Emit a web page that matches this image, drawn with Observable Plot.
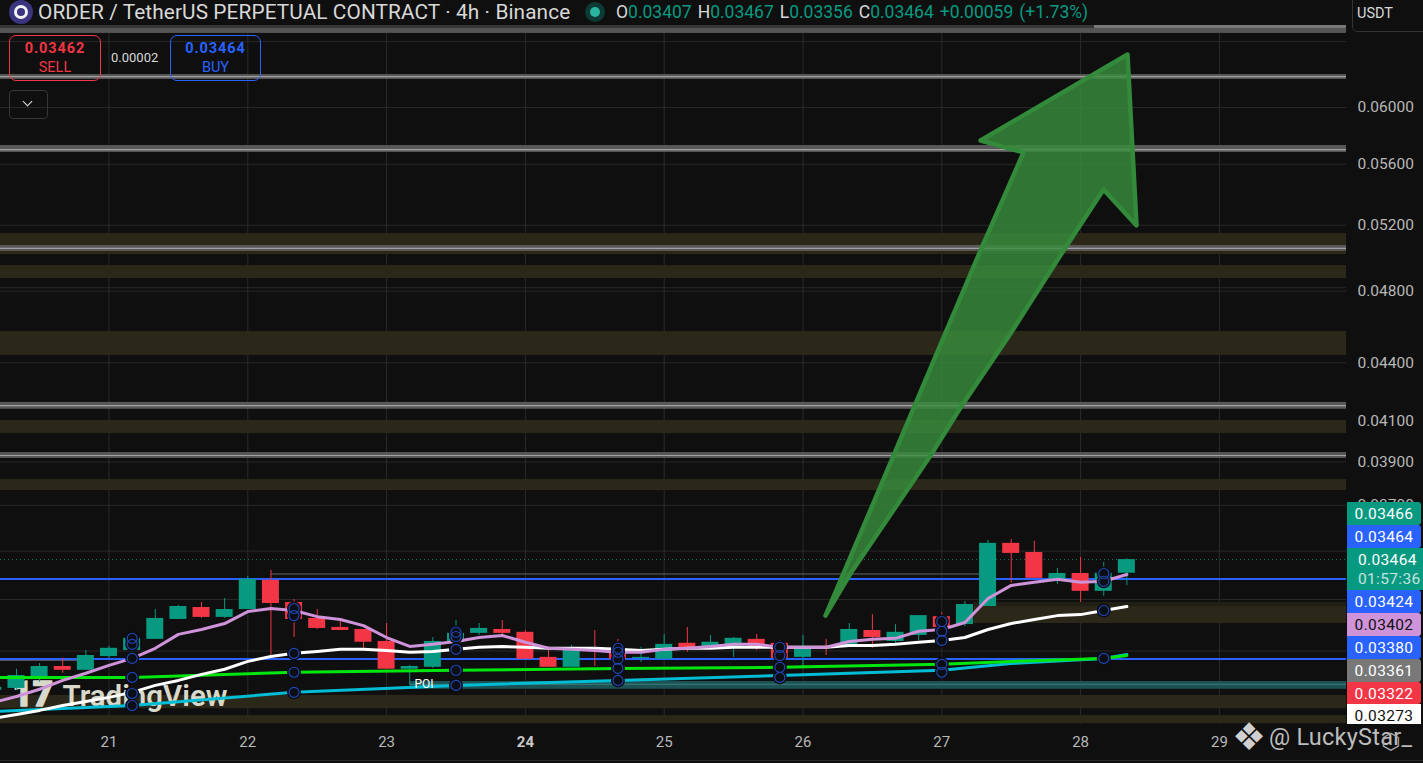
<!DOCTYPE html>
<html><head><meta charset="utf-8">
<style>
html,body{margin:0;padding:0;background:#0f0f0f;overflow:hidden}
#root{position:relative;width:1423px;height:763px;overflow:hidden;font-family:Roboto,sans-serif;color:#d1d4dc}
#chart svg{display:block}
.abs{position:absolute;white-space:nowrap}
.box{position:absolute;left:1347px;width:74px;text-align:center;font-size:15.5px;line-height:25px;letter-spacing:.35px;color:#fff;border-radius:0 3px 3px 0;overflow:hidden}
.trade{position:absolute;top:35px;height:44px;border-radius:7px;text-align:center;font-size:14.5px;line-height:19px;padding-top:3px;height:41px}
.trade b{letter-spacing:.9px}
</style>
<script src="https://cdn.jsdelivr.net/npm/d3@7"></script>
<script src="https://cdn.jsdelivr.net/npm/@observablehq/plot@0.6"></script>
</head><body>
<div id="root">
<div id="chart"></div>
<div class="abs" style="left:0;top:0;width:1346px;height:25px;background:#0f0f0f"></div>
<div class="abs" style="left:9px;top:0;width:24px;height:24px;border-radius:50%;background:#3b3580"></div>
<div class="abs" style="left:14px;top:5px;width:8px;height:8px;border:3px solid #f2f2f2;border-radius:50%"></div>
<div class="abs" style="left:38px;top:0;font-size:20.8px;line-height:25px;color:#d8d8d8;letter-spacing:.1px">ORDER / TetherUS PERPETUAL CONTRACT · 4h · Binance</div>
<div class="abs" style="left:585px;top:2px;width:20px;height:20px;border-radius:50%;background:#0c3b35"></div>
<div class="abs" style="left:590px;top:7px;width:10px;height:10px;border-radius:50%;background:#2ab5a0"></div>
<div class="abs" style="left:616px;top:0;font-size:17.5px;line-height:25px;color:#d8d8d8;word-spacing:1.6px">O<span style="color:#089981">0.03407</span> H<span style="color:#089981">0.03467</span> L<span style="color:#089981">0.03356</span> C<span style="color:#089981">0.03464</span> <span style="color:#089981">+0.00059 (+1.73%)</span></div>
<div class="abs" style="left:1352px;top:-6px;width:80px;height:38px;border:1px solid #333;border-radius:5px;box-sizing:border-box;font-size:14.5px;line-height:38px;padding-left:4px;color:#d8d8d8">USDT</div>
<div class="trade" style="left:9px;width:90px;border:1px solid #f23645;color:#f23645"><b>0.03462</b><br>SELL</div>
<div class="abs" style="left:111px;top:50px;font-size:13px;line-height:15px;color:#d8d8d8">0.00002</div>
<div class="trade" style="left:170px;width:89px;border:1px solid #2962ff;color:#2962ff"><b>0.03464</b><br>BUY</div>
<div class="abs" style="left:9px;top:90px;width:37px;height:27px;border:1px solid #363636;border-radius:4px"></div>
<div class="abs" style="left:24px;top:98px;width:6px;height:6px;border-right:1.6px solid #e0e0e0;border-bottom:1.6px solid #e0e0e0;transform:rotate(45deg)"></div>
<div class="box" style="top:502px;height:23px;background:#089981">0.03466</div>
<div class="box" style="top:525px;height:23px;background:#2962ff">0.03464</div>
<div class="box" style="top:548px;height:42px;width:65px;padding-left:11px;text-align:left;border-radius:0;background:#089981">0.03464<br><span style="opacity:.75;position:relative;top:-6px">01:57:36</span></div>
<div class="box" style="top:590px;height:23px;background:#2962ff">0.03424</div>
<div class="box" style="top:613px;height:23px;background:#ce93d8;color:#111">0.03402</div>
<div class="box" style="top:636px;height:23px;background:#2962ff">0.03380</div>
<div class="box" style="top:659px;height:23px;background:#787878">0.03361</div>
<div class="box" style="top:682px;height:22px;background:#f23645">0.03322</div>
<div class="box" style="top:704px;height:20px;background:#fff;color:#111;border-radius:0">0.03273</div>
<div class="abs" style="left:1232px;top:717px;font-family:'DejaVu Sans';font-size:38px;line-height:40px;color:#cfcfcf">❖</div>
<div class="abs" style="left:1269px;top:722px;font-size:23.5px;line-height:30px;color:#bdbdbd;letter-spacing:.25px">@ LuckyStar_</div>
<div class="abs" style="left:1381px;top:730px;font-family:'DejaVu Sans';font-size:22px;line-height:24px;color:#a8a8a8">⬡</div>
<div class="abs" style="left:0;top:760px;width:1423px;height:1px;background:#2a2a2a"></div>
</div>
<script>
// Candles, 4h apart, first one at day 20 + 1/6
const openP=[.02955,.02962,.02995,.03042,.03028,.03079,.03102,.03144,.03221,.03268,.03229,.03260,.03378,.03288,.03225,.03190,.03182,.03136,.03032,.03039,.03133,.03167,.03182,.03171,.03076,.03039,.03102,.03110,.03072,.03069,.03129,.03114,.03117,.03144,.03129,.03076,.03117,.03121,.03178,.03136,.03159,.03232,.03201,.03272,.03533,.03494,.03378,.03406,.03333,.03407];
const closeP=[.02966,.03009,.03042,.03028,.03083,.03110,.03148,.03225,.03272,.03229,.03260,.03382,.03284,.03221,.03186,.03178,.03133,.03032,.03042,.03136,.03167,.03186,.03167,.03069,.03039,.03102,.03098,.03069,.03076,.03125,.03110,.03133,.03148,.03114,.03072,.03114,.03114,.03182,.03151,.03171,.03236,.03190,.03280,.03533,.03490,.03386,.03406,.03333,.03407,.03464];
const highP=[.02970,.03032,.03053,.03072,.03102,.03117,.03167,.03260,.03276,.03288,.03304,.03394,.03419,.03300,.03260,.03225,.03182,.03205,.03046,.03151,.03217,.03205,.03217,.03178,.03102,.03121,.03178,.03144,.03114,.03163,.03190,.03159,.03151,.03163,.03140,.03159,.03144,.03205,.03240,.03201,.03236,.03248,.03292,.03546,.03550,.03542,.03427,.03473,.03452,.03467];
const lowP=[.02950,.02955,.02984,.03017,.03028,.03072,.03091,.03144,.03221,.03225,.03225,.03260,.03083,.03151,.03182,.03178,.03110,.03032,.02973,.03035,.03129,.03159,.03151,.03069,.03039,.03039,.03042,.03069,.03057,.03069,.03095,.03114,.03076,.03102,.03072,.03042,.03083,.03121,.03110,.03129,.03140,.03186,.03193,.03272,.03366,.03386,.03361,.03288,.03313,.03356];
const purpleEma=[.02912,.02933,.02959,.02991,.03017,.03046,.03072,.03110,.03163,.03182,.03205,.03252,.03264,.03256,.03232,.03221,.03197,.03151,.03117,.03125,.03136,.03151,.03159,.03133,.03110,.03106,.03102,.03095,.03095,.03106,.03110,.03117,.03125,.03125,.03114,.03114,.03114,.03136,.03144,.03148,.03175,.03182,.03209,.03304,.03357,.03370,.03382,.03370,.03374,.03402];
const whiteEma=[.02856,.02870,.02884,.02901,.02915,.02930,.02948,.02973,.02991,.03013,.03032,.03061,.03079,.03091,.03098,.03106,.03106,.03102,.03095,.03098,.03106,.03114,.03117,.03114,.03110,.03110,.03110,.03106,.03102,.03106,.03110,.03110,.03114,.03114,.03114,.03114,.03114,.03121,.03121,.03125,.03133,.03140,.03151,.03182,.03205,.03221,.03236,.03240,.03256,.03272];
const slowT=[20.167,21.167,22.333,23.5,24.667,25.833,27,27.5,28.167,28.333];
const greenEma=[.03002,.03002,.03021,.03028,.03035,.03039,.03050,.03061,.03072,.03083];
const cyanEma=[.02880,.02901,.02948,.02973,.02991,.03009,.03028,.03053,.03072,.03087];
const ringT=[21.167,21.167,21.167,21.167,21.167,21.167,22.333,22.333,22.333,22.333,22.333,23.5,23.5,23.5,23.5,23.5,24.667,24.667,24.667,24.667,24.667,25.833,25.833,25.833,25.833,27,27,27,27,27,28.167,28.167,28.167,28.167];
const ringP=[.03148,.03125,.03072,.03002,.02944,.02901,.03264,.03236,.03091,.03021,.02948,.03171,.03155,.03106,.03028,.02973,.03110,.03095,.03069,.03035,.02991,.03114,.03083,.03039,.03002,.03213,.03175,.03140,.03050,.03021,.03406,.03374,.03256,.03072];
const tanLow=[.05018,.04874,.04439,.04037,.03767,.02890,.02838];
const tanHigh=[.05148,.04952,.04570,.04102,.03818,.02937,.02866];
const sideTanLow=[.03205], sideTanHigh=[.03272], sideEdgeLow=[.03272], sideEdgeHigh=[.03288], sideTanFrom=[27.23];
const greyLow=[.06208,.05681,.05037,.04158,.03917];
const greyHigh=[.06245,.05729,.05074,.04193,.03945];
const greyMid=[.06230,.05701,.05056,.04177,.03931];
const topLow=[.06565], topHigh=[.06605], topEdgeLow=[.06605], topEdgeHigh=[.06629], topEdgeFrom=[28.1];
const tealLow=[.02959], tealHigh=[.02987], tealMid=[.02977], tealFrom=[23.17];
const blueLevels=[.03383,.03070];
const greyShortP=[.03404,.03065], greyShortFrom=[22.17,20.2], greyShortTo=[27.33,20.83];
const lastClose=[.03464];
const poiT=[23.27], poiP=[.02977];
const arrowT=[26.162,26.537,27.012,27.279,27.589,27.279,28.338,28.403,28.165,27.877,27.495,27.135,26.919,26.342,26.162];
const arrowP=[.03236,.03754,.04537,.05043,.05681,.05764,.06399,.05199,.05431,.05043,.04559,.04167,.03931,.03406,.03236];
const dayTicks=[21,22,23,25,26,27,28,29], boldDay=[24];
const allDays=[21,22,23,24,25,26,27,28,29];
const priceTicks=[.06,.056,.052,.048,.044,.041,.039,.037];
const gridPrices=[.065,.06,.056,.052,.048,.0482,.044,.041,.039,.037,.035,.033,.031,.029];

const xDomain=[20.2183,29.9157], yDomain=[.02835,.06833];
const candleHalf=.0612;
const candles=openP.map((o,i)=>({t:20+(i+1)/6,o,c:closeP[i],h:highP[i],l:lowP[i],p:purpleEma[i],w:whiteEma[i],up:closeP[i]>=o}));
const bands=(lo,hi)=>lo.map((v,i)=>({lo:v,hi:hi[i]}));
const rings=ringT.map((t,i)=>({t,p:ringP[i]}));
const slow=slowT.map((t,i)=>({t,g:greenEma[i],c:cyanEma[i]}));
const arrow=arrowT.map((t,i)=>({t,p:arrowP[i]}));
const GREEN="#089981",RED="#f23645",BG="#0f0f0f";
const band=(lo,hi,fill,x1=xDomain[0],x2=xDomain[1])=>Plot.rect(bands(lo,hi),{x1:()=>x1,x2:()=>x2,y1:"lo",y2:"hi",fill,inset:0});

const chart=Plot.plot({
  width:1423,height:763,marginLeft:0,marginRight:77,marginTop:0,marginBottom:39,
  style:{background:BG,fontFamily:"Roboto, sans-serif"},
  x:{type:"linear",domain:xDomain,axis:null},
  y:{type:"log",domain:yDomain,axis:null},
  marks:[
    Plot.ruleY(gridPrices,{stroke:"#282828",strokeWidth:1}),
    Plot.ruleX(allDays,{stroke:"#2a2a2a",strokeWidth:1}),
    band(tanLow,tanHigh,"#2b2819"),
    band(sideTanLow,sideTanHigh,"#2b2819",sideTanFrom[0]),
    band(sideEdgeLow,sideEdgeHigh,"#211f15",sideTanFrom[0]),
    band(tealLow,tealHigh,"#1c5254",tealFrom[0]),
    Plot.ruleY(tealMid,{x1:()=>tealFrom[0],x2:()=>xDomain[1],stroke:"#3f7c7c",strokeWidth:1}),
    band(greyLow,greyHigh,"#585858"),
    Plot.ruleY(greyMid,{stroke:"#a0a0a0",strokeWidth:1.2}),
    band(topLow,topHigh,"#555555"),
    band(topEdgeLow,topEdgeHigh,"#363636"),
    band(topEdgeLow,topEdgeHigh,"#7a7a7a",topEdgeFrom[0]),
    Plot.ruleY(greyShortP,{x1:(d,i)=>greyShortFrom[i],x2:(d,i)=>greyShortTo[i],stroke:"#666",strokeWidth:1}),
    Plot.ruleY(lastClose,{stroke:GREEN,strokeDasharray:"1 3",strokeOpacity:.8}),
    Plot.text(["TradingView"],{frameAnchor:"bottom-left",dx:62,dy:-19,fontSize:29.5,fontWeight:600,fill:"#d9d9cb",textAnchor:"start"}),
    Plot.text(["17"],{frameAnchor:"bottom-left",dx:12,dy:-19,fontSize:35,fontWeight:900,fill:"#d9d9cb",stroke:"#d9d9cb",strokeWidth:1.5,textAnchor:"start"}),
    Plot.ruleY(blueLevels,{stroke:"#2962ff",strokeWidth:2}),
    Plot.ruleX(candles,{x:"t",y1:"l",y2:"h",stroke:d=>d.up?GREEN:RED,strokeWidth:1}),
    Plot.rect(candles,{x1:d=>d.t-candleHalf,x2:d=>d.t+candleHalf,y1:"o",y2:"c",fill:d=>d.up?GREEN:RED}),
    Plot.line(slow,{x:"t",y:"c",stroke:"#00bcd4",strokeWidth:3}),
    Plot.line(slow,{x:"t",y:"g",stroke:"#00e60f",strokeWidth:3}),
    Plot.line(candles,{x:"t",y:"w",stroke:"#fff",strokeWidth:3}),
    Plot.line(candles,{x:"t",y:"p",stroke:"#ce93d8",strokeWidth:3}),
    Plot.dot(rings,{x:"t",y:"p",r:7,fill:"#0b0e14",stroke:"none"}),
    Plot.dot(rings,{x:"t",y:"p",r:5,fill:"none",stroke:"#2148b8",strokeWidth:1.1}),
    Plot.text(["POI"],{x:()=>poiT[0],y:()=>poiP[0],fill:"#fff",fontSize:12,fontWeight:400}),
    Plot.line(arrow,{x:"t",y:"p",fill:"rgb(56,142,60)",fillOpacity:.8,stroke:"#338a3a",strokeWidth:4.5,strokeLinejoin:"round",strokeLinecap:"round"}),
    Plot.axisX(dayTicks,{anchor:"bottom",tickSize:0,tickPadding:12,fontSize:15,fill:"#b8b8b8",label:null,tickFormat:d=>String(d)}),
    Plot.axisX(boldDay,{anchor:"bottom",tickSize:0,tickPadding:12,fontSize:15,fontWeight:700,fill:"#c8c8c8",label:null,tickFormat:d=>String(d)}),
    Plot.axisY(priceTicks,{anchor:"right",tickSize:0,tickPadding:11,fontSize:15.5,fill:"#b8b8b8",label:null,tickFormat:d=>d.toFixed(5)})
  ]
});
document.getElementById("chart").appendChild(chart);
</script>
</body></html>
